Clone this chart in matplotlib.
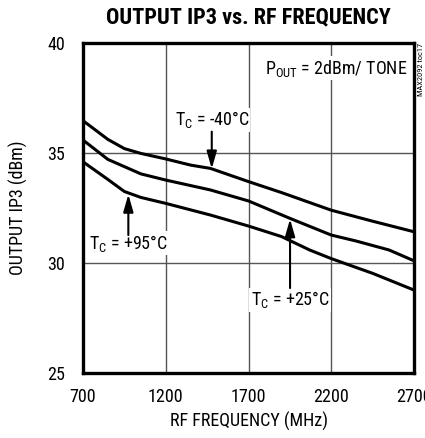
import matplotlib
matplotlib.use("Agg")
import matplotlib.pyplot as plt
from matplotlib import font_manager as fm

# pick a narrow sans font if one is installed
_names = {f.name for f in fm.fontManager.ttflist}
_cond_dejavu = any(f.name == 'DejaVu Sans' and f.stretch == 'condensed' for f in fm.fontManager.ttflist)
STRETCH = 'normal'
if 'Liberation Sans Narrow' in _names:
    FAM = 'Liberation Sans Narrow'
elif 'Roboto Condensed' in _names:
    FAM = 'Roboto Condensed'
elif _cond_dejavu:
    FAM = 'DejaVu Sans'
    STRETCH = 'condensed'
else:
    FAM = 'Liberation Sans'

plt.rcParams['font.family'] = [FAM, 'DejaVu Sans']
plt.rcParams['font.stretch'] = STRETCH

# Data
freq_m40 = [700, 850, 950, 1050, 1200, 1350, 1470, 1700, 1900, 2200, 2450, 2700]
ip3_m40 = [36.47, 35.62, 35.2, 34.98, 34.73, 34.45, 34.3, 33.7, 33.2, 32.4, 31.9, 31.42]

freq_25 = [700, 850, 950, 1050, 1200, 1470, 1700, 1950, 2200, 2350, 2550, 2700]
ip3_25 = [35.59, 34.71, 34.38, 34.05, 33.77, 33.32, 32.82, 32.03, 31.27, 31.0, 30.59, 30.1]

freq_95 = [700, 850, 950, 1050, 1200, 1470, 1700, 1900, 2070, 2200, 2450, 2700]
ip3_95 = [34.6, 33.8, 33.25, 32.98, 32.71, 32.18, 31.68, 31.2, 30.59, 30.2, 29.53, 28.77]

xticks = [700, 1200, 1700, 2200, 2700]
yticks = [25, 30, 35, 40]

FS = 13 if FAM != 'Liberation Sans' else 11

fig = plt.figure(figsize=(4.25, 4.38), dpi=100)
ax = fig.add_axes([83/425, 1-373/438, 331/425, 330/438])

ax.set_xlim(700, 2700)
ax.set_ylim(25, 40)
ax.set_xticks(xticks)
ax.set_yticks(yticks)
ax.set_xticklabels([str(t) for t in xticks], fontsize=FS)
ax.set_yticklabels([str(t) for t in yticks], fontsize=FS)
ax.tick_params(axis='x', length=0, pad=11)
ax.tick_params(axis='y', length=0, pad=13)
ax.grid(True, color='#555555', lw=1.0)
ax.set_axisbelow(True)
for s in ax.spines.values():
    s.set_linewidth(2.4)
    s.set_color('black')

for f, v in [(freq_m40, ip3_m40), (freq_25, ip3_25), (freq_95, ip3_95)]:
    ax.plot(f, v, color='black', lw=2.2, solid_capstyle='butt', zorder=3)

ap = dict(arrowstyle='-|>,head_length=0.7,head_width=0.2', mutation_scale=15,
          color='black', lw=1.5, shrinkA=0, shrinkB=0)
bb = dict(facecolor='white', edgecolor='none', pad=1)

ax.annotate('', xy=(1478, 34.28), xytext=(1478, 35.97), arrowprops=ap, zorder=4)
ax.text(1478, 36.5, r'T$_\mathregular{C}$ = -40°C', ha='center', va='center',
        fontsize=FS, bbox=bb, zorder=2)

ax.annotate('', xy=(974, 33.12), xytext=(974, 31.27), arrowprops=ap, zorder=4)
ax.text(974, 30.9, r'T$_\mathregular{C}$ = +95°C', ha='center', va='center',
        fontsize=FS, bbox=bb, zorder=2)

ax.annotate('', xy=(1951, 32.0), xytext=(1951, 28.86), arrowprops=ap, zorder=4)
ax.text(1951, 28.32, r'T$_\mathregular{C}$ = +25°C', ha='center', va='center',
        fontsize=FS, bbox=bb, zorder=2)

ax.text(2658, 38.86, r'P$_\mathregular{OUT}$ = 2dBm/ TONE', ha='right', va='center',
        fontsize=FS, bbox=bb, zorder=2)

ax.set_xlabel('RF FREQUENCY (MHz)', fontsize=FS)
ax.set_ylabel('OUTPUT IP3 (dBm)', fontsize=FS)
ax.xaxis.set_label_coords(0.5, (373-412)/330)
ax.yaxis.set_label_coords((28-83)/331, 0.5)

fig.text(248/425, 1-17/438, 'OUTPUT IP3 vs. RF FREQUENCY', ha='center', va='center',
         fontsize=FS+3 if FAM != 'Liberation Sans' else 13, fontweight='bold')
fig.text(421/425, 1-43/438, 'MAX2092 toc17', rotation=90, ha='center', va='top',
         fontsize=6)

fig.savefig('out.png', dpi=100)
